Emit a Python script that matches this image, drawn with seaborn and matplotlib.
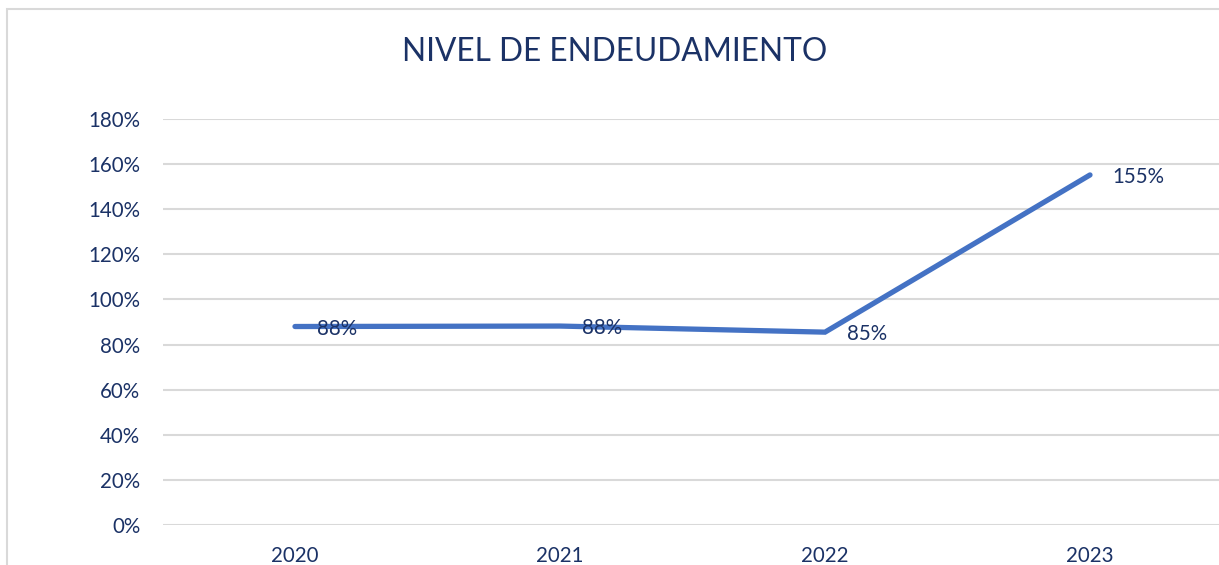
import pandas as pd
import seaborn as sns
import matplotlib.pyplot as plt
from matplotlib.patches import Rectangle
from matplotlib.ticker import FuncFormatter

# Data
years = ["2020", "2021", "2022", "2023"]
nivel = [88.0, 88.2, 85.5, 155.2]
labels = ["88%", "88%", "85%", "155%"]

navy = "#1B3266"
blue = "#4472C4"
grid = "#D9D9D9"

sns.set_theme(style="white")
plt.rcParams["font.family"] = ["Lato", "DejaVu Sans"]

df = pd.DataFrame({"year": years, "nivel": nivel})

fig = plt.figure(figsize=(12.19, 5.65), dpi=100)
ax = fig.add_axes([162.5 / 1219, 40 / 565, 1060 / 1219, 406 / 565])

sns.lineplot(data=df, x="year", y="nivel", color=blue, linewidth=3.8,
             solid_capstyle="round", solid_joinstyle="miter", ax=ax, zorder=3)

ax.set_xlim(-0.5, len(years) - 0.5)
ax.set_ylim(0, 180)
ax.set_yticks(range(0, 181, 20))
ax.yaxis.set_major_formatter(FuncFormatter(lambda v, _: f"{v:.0f}%"))
ax.grid(axis="y", color=grid, linewidth=1.5)
ax.set_axisbelow(True)
for s in ax.spines.values():
    s.set_visible(False)
ax.set_xlabel("")
ax.set_ylabel("")
ax.tick_params(axis="y", length=0, pad=16, labelsize=14.8, labelcolor=navy)
ax.tick_params(axis="x", length=0, pad=15, labelsize=14.8, labelcolor=navy)

# data labels to the right of each point
for i, (v, lab) in enumerate(zip(nivel, labels)):
    ax.annotate(lab, (i, v), xytext=(22, -2), textcoords="offset pixels",
                ha="left", va="center", fontsize=14.8, color=navy, zorder=4)

fig.text(615 / 1219, 1 - 52 / 565, "NIVEL DE ENDEUDAMIENTO", ha="center",
         va="center", fontsize=22.8, color=navy)

# chart area border (cropped at right and bottom)
fig.patches.append(Rectangle((7 / 1219, -0.1), 1.2, 1 - 9 / 565 + 0.1,
                             transform=fig.transFigure, fill=False,
                             edgecolor=grid, linewidth=1.5))

fig.savefig("out.png", dpi=100)
